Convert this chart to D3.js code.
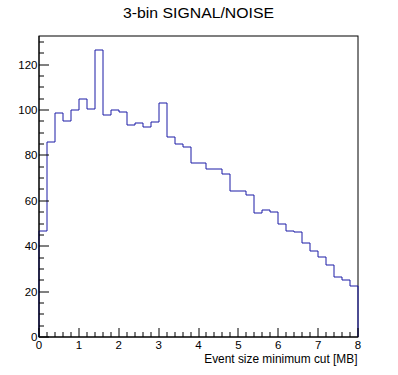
<!DOCTYPE html>
<html>
<head>
<meta charset="utf-8">
<script src="https://cdn.jsdelivr.net/npm/d3@7"></script>
<style>
  html, body { margin: 0; padding: 0; background: #fff; }
  svg { display: block; }
  text { font-family: "Liberation Sans", Arial, Helvetica, sans-serif; fill: #000; }
</style>
</head>
<body>
<svg id="chart" width="398" height="375"></svg>
<script>
// ---- data ----
const binEdgesRange = [0, 8];          // x range, 40 bins of width 0.2
const binWidth = 0.2;
const counts = [46.8, 85.7, 98.5, 95.2, 99.8, 104.7, 100.3, 126.3, 98.0, 99.8,
                99.2, 93.2, 94.1, 92.7, 94.9, 103.2, 87.9, 84.9, 83.6, 76.8,
                76.5, 74.0, 74.0, 72.0, 64.4, 64.4, 62.5, 54.6, 56.0, 55.0,
                49.9, 46.6, 46.2, 41.6, 37.9, 35.3, 31.7, 26.4, 25.3, 22.3];
const xTickLabels = ["0", "1", "2", "3", "4", "5", "6", "7", "8"];
const yTickLabels = ["0", "20", "40", "60", "80", "100", "120"];
const title = "3-bin SIGNAL/NOISE";
const xTitle = "Event size minimum cut [MB]";

// ---- layout ----
const svg = d3.select("#chart");
const pLeft = 39, pRight = 358, pTop = 36, pBottom = 337;
const yMax = d3.max(counts) * 1.05;

const x = d3.scaleLinear().domain(binEdgesRange).range([pLeft, pRight]);
const y = d3.scaleLinear().domain([0, yMax]).range([pBottom, pTop]);
const px = v => Math.round(x(v));
const py = v => Math.round(y(v));

// frame
svg.append("rect")
  .attr("x", pLeft).attr("y", pTop)
  .attr("width", pRight - pLeft).attr("height", pBottom - pTop)
  .attr("fill", "none").attr("stroke", "#000").attr("stroke-width", 1);

// histogram step line
const pts = [];
pts.push([px(0), py(0)]);
counts.forEach((c, i) => {
  pts.push([px(i * binWidth), py(c)]);
  pts.push([px((i + 1) * binWidth), py(c)]);
});
pts.push([px(8), py(0)]);
svg.append("path")
  .attr("d", d3.line()(pts))
  .attr("fill", "none")
  .attr("stroke", "#1a1aa6")
  .attr("stroke-width", 1);

// x axis
const gx = svg.append("g");
gx.append("line").attr("x1", pLeft).attr("x2", pRight).attr("y1", pBottom).attr("y2", pBottom)
  .attr("stroke", "#000").attr("stroke-width", 1);
const xMinor = d3.range(0, 8.0001, 0.2);
xMinor.forEach(v => {
  const major = Math.abs(v - Math.round(v)) < 1e-6;
  const len = major ? 9 : 5;
  gx.append("line")
    .attr("x1", px(v)).attr("x2", px(v))
    .attr("y1", pBottom).attr("y2", pBottom - len)
    .attr("stroke", "#000").attr("stroke-width", 1);
});
xTickLabels.forEach(t => {
  gx.append("text")
    .attr("x", x(+t)).attr("y", 349)
    .attr("text-anchor", "middle")
    .attr("font-size", 11.5)
    .text(t);
});
gx.append("text")
  .attr("x", 357.5).attr("y", 362.5)
  .attr("text-anchor", "end")
  .attr("font-size", 11.9)
  .text(xTitle);

// y axis
const gy = svg.append("g");
gy.append("line").attr("x1", pLeft).attr("x2", pLeft).attr("y1", pTop).attr("y2", pBottom)
  .attr("stroke", "#000").attr("stroke-width", 1);
d3.range(0, yMax, 5).forEach(v => {
  const major = v % 20 === 0;
  const len = major ? 10 : 5;
  gy.append("line")
    .attr("x1", pLeft).attr("x2", pLeft + len)
    .attr("y1", py(v)).attr("y2", py(v))
    .attr("stroke", "#000").attr("stroke-width", 1);
});
yTickLabels.forEach(t => {
  gy.append("text")
    .attr("x", 37.5).attr("y", y(+t) + 4)
    .attr("text-anchor", "end")
    .attr("font-size", 11.5)
    .text(t);
});

// title
svg.append("text")
  .attr("x", 198.5).attr("y", 17.5)
  .attr("text-anchor", "middle")
  .attr("font-size", 14)
  .attr("textLength", 151)
  .attr("lengthAdjust", "spacingAndGlyphs")
  .text(title);
</script>
</body>
</html>
